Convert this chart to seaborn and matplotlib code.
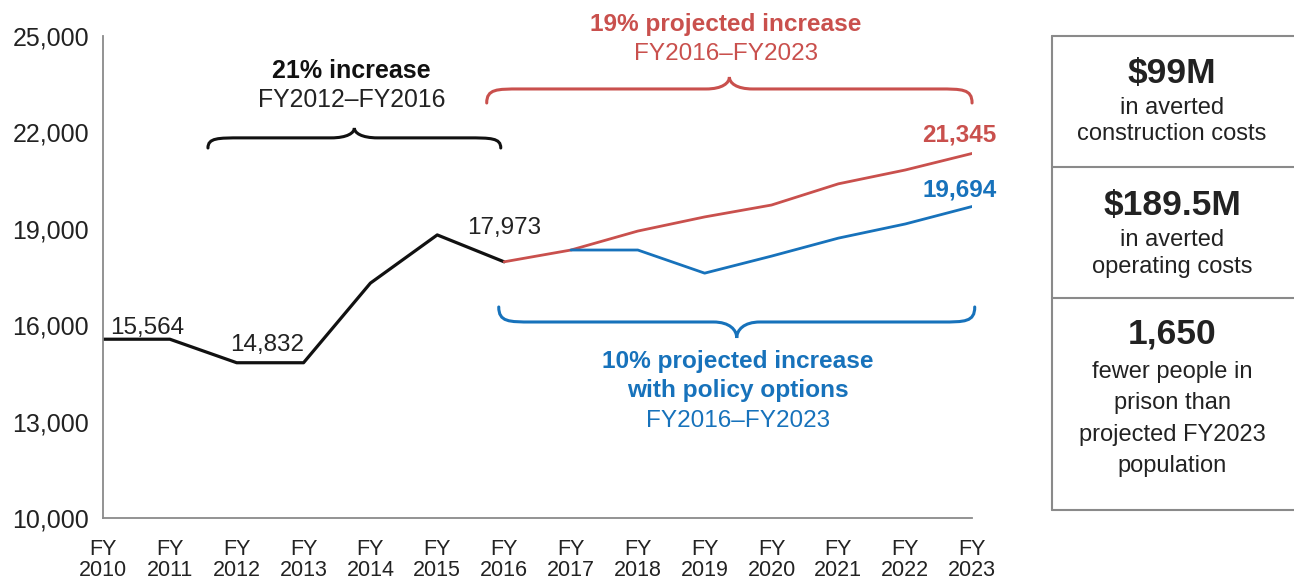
import seaborn as sns
import matplotlib.pyplot as plt
import pandas as pd
from matplotlib.path import Path
from matplotlib.patches import PathPatch

# data
hist_years = [2010, 2011, 2012, 2013, 2014, 2015, 2016]
hist_pop = [15564, 15564, 14832, 14832, 17310, 18810, 17973]
proj_years = [2016, 2017, 2018, 2019, 2020, 2021, 2022, 2023]
proj_pop = [17973, 18340, 18930, 19370, 19740, 20400, 20830, 21345]
policy_years = [2017, 2018, 2019, 2020, 2021, 2022, 2023]
policy_pop = [18340, 18340, 17620, 18150, 18710, 19150, 19694]
y_ticks = [10000, 13000, 16000, 19000, 22000, 25000]
x_labels = ["FY\n%d" % y for y in range(2010, 2024)]

BLACK = "#111111"
RED = "#C9504D"
BLUE = "#1772BB"
GRAY = "#8a8a8a"
TEXT = "#222222"

hist = pd.DataFrame({"year": hist_years, "pop": hist_pop})
proj = pd.DataFrame({"year": proj_years, "pop": proj_pop})
policy = pd.DataFrame({"year": policy_years, "pop": policy_pop})

sns.set_theme(style="white")
plt.rcParams["font.family"] = ["Liberation Sans", "DejaVu Sans"]

fig = plt.figure(figsize=(12.94, 5.8), dpi=100)
ax = fig.add_axes([0.0796, 0.1069, 0.6716, 0.831])

sns.lineplot(data=hist, x="year", y="pop", color=BLACK, linewidth=2.3, ax=ax)
sns.lineplot(data=proj, x="year", y="pop", color=RED, linewidth=2.0, ax=ax)
sns.lineplot(data=policy, x="year", y="pop", color=BLUE, linewidth=2.0, ax=ax)

ax.set_xlim(2010, 2023)
ax.set_ylim(10000, 25000)
ax.set_xticks(range(2010, 2024))
ax.set_xticklabels(x_labels, fontsize=15.5, color=TEXT, linespacing=1.0)
ax.set_yticks(y_ticks)
ax.set_yticklabels(["{:,}".format(v) for v in y_ticks], fontsize=18, color=TEXT)
ax.set_xlabel("")
ax.set_ylabel("")
for side in ["top", "right"]:
    ax.spines[side].set_visible(False)
for side in ["left", "bottom"]:
    ax.spines[side].set_color(GRAY)
    ax.spines[side].set_linewidth(1.3)
ax.tick_params(axis="x", direction="out", length=7, width=1.3, color=GRAY, pad=8)
ax.tick_params(axis="y", direction="out", length=6, width=1.3, color=GRAY, pad=4)


def brace(x0, x1, y_end, y_line, y_tip, color):
    xm = (x0 + x1) / 2
    r = 0.5
    t = 0.35
    ym = (y_line + y_tip) / 2
    verts = [(x0, y_end), (x0, y_line), (x0 + r * 0.3, y_line), (x0 + r, y_line),
             (xm - t, y_line),
             (xm - t * 0.3, y_line), (xm, ym), (xm, y_tip),
             (xm, ym), (xm + t * 0.3, y_line), (xm + t, y_line),
             (x1 - r, y_line),
             (x1 - r * 0.3, y_line), (x1, y_line), (x1, y_end)]
    codes = [Path.MOVETO, Path.CURVE4, Path.CURVE4, Path.CURVE4, Path.LINETO,
             Path.CURVE4, Path.CURVE4, Path.CURVE4,
             Path.CURVE4, Path.CURVE4, Path.CURVE4, Path.LINETO,
             Path.CURVE4, Path.CURVE4, Path.CURVE4]
    ax.add_patch(PathPatch(Path(verts, codes), fill=False, edgecolor=color,
                           linewidth=2.2, capstyle="round", clip_on=False))


brace(2011.57, 2015.95, 21515, 21830, 22140, BLACK)
brace(2015.74, 2023.0, 22916, 23352, 23726, RED)
brace(2015.92, 2023.04, 16567, 16100, 15602, BLUE)

ax.text(2013.72, 23912, "21% increase", ha="center", va="center",
        fontsize=18, fontweight="bold", color=BLACK)
ax.text(2013.72, 23010, "FY2012–FY2016", ha="center", va="center",
        fontsize=17.8, color=TEXT)
ax.text(2019.32, 25343, "19% projected increase", ha="center", va="center",
        fontsize=17.6, fontweight="bold", color=RED, clip_on=False)
ax.text(2019.32, 24441, "FY2016–FY2023", ha="center", va="center",
        fontsize=17.5, color=RED)
ax.text(2019.5, 14886, "10% projected increase", ha="center", va="center",
        fontsize=17.6, fontweight="bold", color=BLUE)
ax.text(2019.5, 13953, "with policy options", ha="center", va="center",
        fontsize=17.6, fontweight="bold", color=BLUE)
ax.text(2019.5, 13019, "FY2016–FY2023", ha="center", va="center",
        fontsize=17.5, color=BLUE)

lab = dict(ha="center", va="center", fontsize=17.5, textcoords="offset points")
ax.annotate("{:,}".format(hist_pop[0]), (hist_years[0], hist_pop[0]),
            xytext=(32, 8), color=TEXT, **lab)
ax.annotate("{:,}".format(hist_pop[2]), ((hist_years[2] + hist_years[3]) / 2, hist_pop[2]),
            xytext=(-2, 13), color=TEXT, **lab)
ax.annotate("{:,}".format(hist_pop[-1]), (hist_years[-1], hist_pop[-1]),
            xytext=(0, 24), color=TEXT, **lab)
ax.annotate("{:,}".format(proj_pop[-1]), (proj_years[-1], proj_pop[-1]),
            xytext=(-9, 13), color=RED, fontweight="bold", **lab)
ax.annotate("{:,}".format(policy_pop[-1]), (policy_years[-1], policy_pop[-1]),
            xytext=(-9, 12), color=BLUE, fontweight="bold", **lab)

# side panel with the savings figures
pan = fig.add_axes([0.813, 0.1207, 0.187, 0.817])
pan.set_xlim(1052, 1294)
pan.set_ylim(510, 36)
pan.axis("off")
for yy in [36, 167, 298, 510]:
    pan.plot([1052, 1294], [yy, yy], color=GRAY, linewidth=1.5, clip_on=False)
pan.plot([1052, 1052], [36, 510], color=GRAY, linewidth=1.5, clip_on=False)

cx = 1172
panel_head = [("$99M", 73), ("$189.5M", 205), ("1,650", 334)]
panel_body = [("in averted", 108), ("construction costs", 134),
              ("in averted", 240), ("operating costs", 267),
              ("fewer people in", 372), ("prison than", 403),
              ("projected FY2023", 435), ("population", 466)]
for s, yy in panel_head:
    pan.text(cx, yy, s, ha="center", va="center", fontsize=25.5,
             fontweight="bold", color=TEXT)
for s, yy in panel_body:
    pan.text(cx, yy, s, ha="center", va="center", fontsize=17, color=TEXT)

fig.savefig("out.png", dpi=100)
